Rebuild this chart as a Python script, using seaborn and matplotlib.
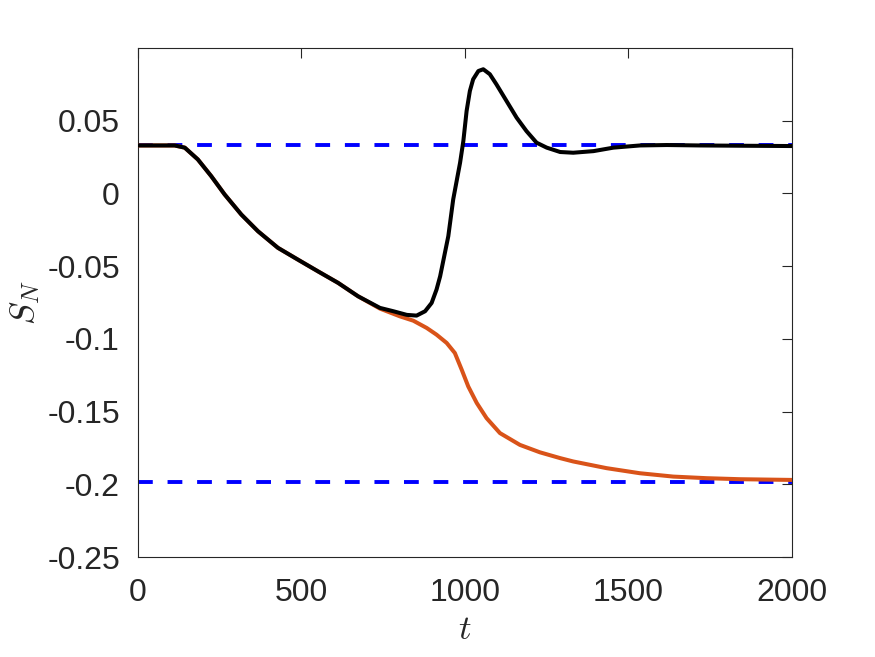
import numpy as np
import pandas as pd
import matplotlib
matplotlib.use("Agg")
import matplotlib.pyplot as plt
import seaborn as sns

# Values
t_black = [0, 112, 143, 183, 224, 265, 316, 367, 428, 489, 550, 612, 673, 740,
           781, 822, 852, 878, 898, 913, 924, 949, 964, 985, 995, 1005, 1015,
           1025, 1041, 1056, 1076, 1096, 1127, 1158, 1188, 1219, 1250, 1291,
           1331, 1393, 1454, 1535, 1617, 1719, 1850, 2000]
s_black = [0.033, 0.033, 0.0315, 0.0234, 0.0119, -0.0007, -0.0145, -0.026,
           -0.0374, -0.0455, -0.0535, -0.0615, -0.0707, -0.0787, -0.081,
           -0.0835, -0.084, -0.081, -0.0753, -0.0661, -0.057, -0.0294, -0.0041,
           0.0211, 0.036, 0.0567, 0.0705, 0.0785, 0.0842, 0.0854, 0.082,
           0.0751, 0.0636, 0.0521, 0.0429, 0.0349, 0.0315, 0.0285, 0.028,
           0.0291, 0.0315, 0.033, 0.0333, 0.033, 0.0328, 0.0326]

t_orange = [0, 112, 143, 183, 224, 265, 316, 367, 428, 489, 550, 612, 673, 740,
            801, 842, 883, 913, 944, 969, 990, 1010, 1036, 1066, 1107, 1168,
            1229, 1291, 1331, 1433, 1535, 1637, 1739, 1841, 2000]
s_orange = [0.033, 0.033, 0.0315, 0.0234, 0.0119, -0.0007, -0.0145, -0.026,
            -0.0374, -0.0455, -0.0535, -0.0615, -0.0707, -0.0792, -0.0845,
            -0.0875, -0.0925, -0.0971, -0.1028, -0.1097, -0.1212, -0.1327,
            -0.1441, -0.1545, -0.1648, -0.1729, -0.1780, -0.182, -0.1843,
            -0.1889, -0.1924, -0.1947, -0.1958, -0.1965, -0.197]

ref_levels = [0.0333, -0.1986]

x_ticks = [0, 500, 1000, 1500, 2000]
y_ticks = [-0.25, -0.2, -0.15, -0.1, -0.05, 0, 0.05]
y_tick_labels = ["-0.25", "-0.2", "-0.15", "-0.1", "-0.05", "0", "0.05"]

sns.set_theme(style="white")
plt.rcParams["font.family"] = ["Liberation Sans", "DejaVu Sans"]
plt.rcParams["mathtext.fontset"] = "cm"

fig = plt.figure(figsize=(8.75, 6.57), dpi=100)
ax = fig.add_axes([0.1577, 0.1522, 0.7474, 0.7747])

for level in ref_levels:
    ax.axhline(level, color="#0000FF", lw=2.8, ls=(0, (3.8, 3.8)), zorder=2)

sns.lineplot(x=t_orange, y=s_orange, color="#D95319", lw=2.9, ax=ax,
             sort=False, zorder=3)
sns.lineplot(x=t_black, y=s_black, color="black", lw=2.9, ax=ax,
             sort=False, zorder=4)

ax.set_xlim(0, 2000)
ax.set_ylim(-0.25, 0.1)
ax.set_xticks(x_ticks)
ax.set_xticklabels([str(v) for v in x_ticks])
ax.set_yticks(y_ticks)
ax.set_yticklabels(y_tick_labels)

ax.tick_params(direction="in", length=7, width=0.8, colors="#262626",
               labelsize=23, top=True, right=True)
ax.tick_params(axis="x", pad=15)
ax.tick_params(axis="y", pad=13)
for side in ax.spines.values():
    side.set_color("#262626")
    side.set_linewidth(0.8)

ax.set_xlabel(r"$t$", fontsize=25, color="#262626", labelpad=4)
ax.set_ylabel(r"$S_N$", fontsize=25, color="#262626", labelpad=4)

fig.savefig("out.png", dpi=100)
